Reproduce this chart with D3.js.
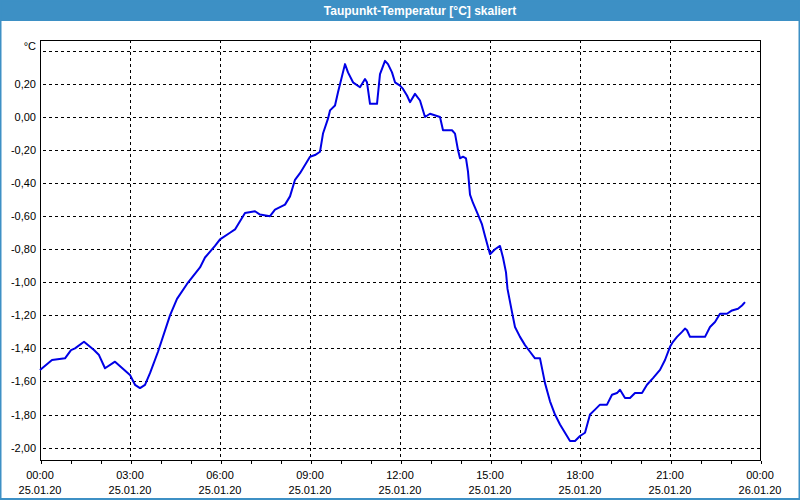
<!DOCTYPE html>
<html>
<head>
<meta charset="utf-8">
<script src="https://cdn.jsdelivr.net/npm/d3@7"></script>
<style>
  html, body { margin: 0; padding: 0; background: #ffffff; }
  svg { display: block; }
</style>
</head>
<body>
<svg id="chart" width="800" height="500"></svg>
<script>
// ---- data ----
const title = "Taupunkt-Temperatur [°C] skaliert";
const unitLabel = "°C";
// minutes after 25.01.20 00:00
const minutes = [0, 24, 50, 62, 70, 88, 108, 118, 130, 150, 180, 190, 200, 210, 220, 236, 260, 274,
  294, 320, 330, 350, 360, 380, 390, 410, 430, 440, 460, 470, 490, 500, 510, 520, 530, 540, 550, 560,
  566, 576, 580, 590, 596, 610, 616, 626, 640, 650, 654, 660, 674, 680, 690, 696, 704, 710, 720, 726,
  734, 740, 750, 760, 770, 780, 800, 806, 824, 830, 836, 840, 846, 852, 856, 860, 866, 876, 884, 890,
  900, 910, 920, 926, 932, 935, 944, 950, 960, 970, 980, 990, 1000, 1010, 1020, 1030, 1040, 1050, 1060,
  1070, 1080, 1090, 1100, 1110, 1120, 1134, 1144, 1154, 1160, 1170, 1180, 1190, 1204, 1214, 1226, 1240,
  1250, 1260, 1266, 1274, 1284, 1290, 1294, 1300, 1330, 1340, 1350, 1360, 1374, 1384, 1396, 1404, 1410];
const values = [-1.53, -1.47, -1.46, -1.41, -1.40, -1.36, -1.41, -1.44, -1.52, -1.48, -1.56, -1.62, -1.64, -1.62, -1.55, -1.42, -1.20, -1.10,
  -1.01, -0.91, -0.85, -0.78, -0.74, -0.70, -0.68, -0.58, -0.57, -0.59, -0.60, -0.56, -0.53, -0.48, -0.38, -0.34, -0.29, -0.24, -0.23, -0.21,
  -0.10, -0.01, 0.04, 0.07, 0.15, 0.32, 0.27, 0.21, 0.18, 0.23, 0.21, 0.08, 0.08, 0.26, 0.34, 0.32, 0.27, 0.21, 0.19, 0.17,
  0.13, 0.09, 0.14, 0.10, 0.00, 0.02, 0.00, -0.08, -0.08, -0.10, -0.20, -0.25, -0.24, -0.25, -0.33, -0.47, -0.52, -0.59, -0.65, -0.72,
  -0.83, -0.80, -0.78, -0.85, -0.94, -1.04, -1.18, -1.27, -1.33, -1.38, -1.42, -1.46, -1.46, -1.61, -1.72, -1.80, -1.86, -1.91, -1.96,
  -1.96, -1.93, -1.91, -1.80, -1.77, -1.74, -1.74, -1.68, -1.67, -1.65, -1.70, -1.70, -1.67, -1.67, -1.62, -1.58, -1.53,
  -1.47, -1.39, -1.36, -1.33, -1.30, -1.28, -1.29, -1.33, -1.33, -1.27, -1.24, -1.19, -1.19, -1.17, -1.16, -1.14, -1.12];
const yTicks = [0.2, 0.0, -0.2, -0.4, -0.6, -0.8, -1.0, -1.2, -1.4, -1.6, -1.8, -2.0];
const yGrid = [0.4, 0.2, 0.0, -0.2, -0.4, -0.6, -0.8, -1.0, -1.2, -1.4, -1.6, -1.8, -2.0];

// ---- chart ----
const svg = d3.select("#chart");
const W = 800, H = 500;
const m = { left: 40, right: 760, top: 40, bottom: 460 };
const t0 = new Date(2020, 0, 25, 0, 0);
const t1 = new Date(2020, 0, 26, 0, 0);
const data = minutes.map((mm, i) => ({ t: new Date(t0.getTime() + mm * 60000), v: values[i] }));

const x = d3.scaleTime().domain([t0, t1]).range([m.left, m.right]);
const y = d3.scaleLinear().domain([-2.075, 0.466]).range([m.bottom, m.top]);

const font = "'Liberation Sans', Arial, sans-serif";

// background
svg.append("rect").attr("width", W).attr("height", H).attr("fill", "#ffffff");
// title bar
svg.append("rect").attr("x", 0).attr("y", 0).attr("width", W).attr("height", 21).attr("fill", "#3d90c5");
svg.append("text").attr("x", 420).attr("y", 15).attr("text-anchor", "middle")
  .attr("fill", "#ffffff").attr("font-family", font).attr("font-weight", "bold").attr("font-size", 12)
  .text(title);
// window frame
svg.append("rect").attr("x", 0.5).attr("y", 0.5).attr("width", W - 1).attr("height", H - 1.5)
  .attr("fill", "none").attr("stroke", "#3d90c5").attr("stroke-width", 2);

// plot area
svg.append("rect").attr("x", m.left).attr("y", m.top).attr("width", m.right - m.left).attr("height", m.bottom - m.top)
  .attr("fill", "#ffffff");

// grid
const g = svg.append("g").attr("stroke", "#000").attr("stroke-width", 1).attr("stroke-dasharray", "3,3").attr("shape-rendering", "crispEdges");
g.selectAll("line.h").data(yGrid).enter().append("line")
  .attr("x1", m.left + 3).attr("x2", m.right)
  .attr("y1", d => Math.round(y(d)) + 0.5).attr("y2", d => Math.round(y(d)) + 0.5);
const majorTimes = x.ticks(d3.timeHour.every(3));
g.selectAll("line.v").data(majorTimes.filter(d => +d !== +t0 && +d !== +t1)).enter().append("line")
  .attr("y1", m.top).attr("y2", m.bottom)
  .attr("x1", d => Math.round(x(d)) + 0.5).attr("x2", d => Math.round(x(d)) + 0.5);

// frame of plot
svg.append("rect").attr("x", m.left + 0.5).attr("y", m.top + 0.5)
  .attr("width", m.right - m.left).attr("height", m.bottom - m.top)
  .attr("fill", "none").attr("stroke", "#000").attr("stroke-width", 1).attr("shape-rendering", "crispEdges");

// bottom axis with hourly ticks
const xAxis = d3.axisBottom(x).ticks(d3.timeHour.every(1)).tickSize(3).tickFormat("");
const ax = svg.append("g").attr("transform", `translate(0.5,${m.bottom + 0.5})`).call(xAxis);
ax.select(".domain").remove();
ax.selectAll("line").attr("stroke", "#000").attr("shape-rendering", "crispEdges");

// x labels
const fmtT = d3.timeFormat("%H:%M"), fmtD = d3.timeFormat("%d.%m.%y");
const xl = svg.append("g").attr("font-family", font).attr("font-size", 11).attr("fill", "#000").attr("text-anchor", "middle");
majorTimes.forEach(d => {
  xl.append("text").attr("x", x(d)).attr("y", 479).text(fmtT(d));
  xl.append("text").attr("x", x(d)).attr("y", 494).text(fmtD(d));
});

// y labels
const fmtY = v => d3.format(".2f")(v).replace(".", ",").replace("−", "-");
const yl = svg.append("g").attr("font-family", font).attr("font-size", 11).attr("fill", "#000").attr("text-anchor", "end");
yTicks.forEach(v => {
  yl.append("text").attr("x", 36).attr("y", y(v) + 4).text(fmtY(v));
});
yl.append("text").attr("x", 36).attr("y", 50).text(unitLabel);

// line
const line = d3.line().x(d => x(d.t)).y(d => y(d.v));
svg.append("path").datum(data).attr("d", line)
  .attr("fill", "none").attr("stroke", "#0000e6").attr("stroke-width", 2).attr("stroke-linejoin", "round");
</script>
</body>
</html>
